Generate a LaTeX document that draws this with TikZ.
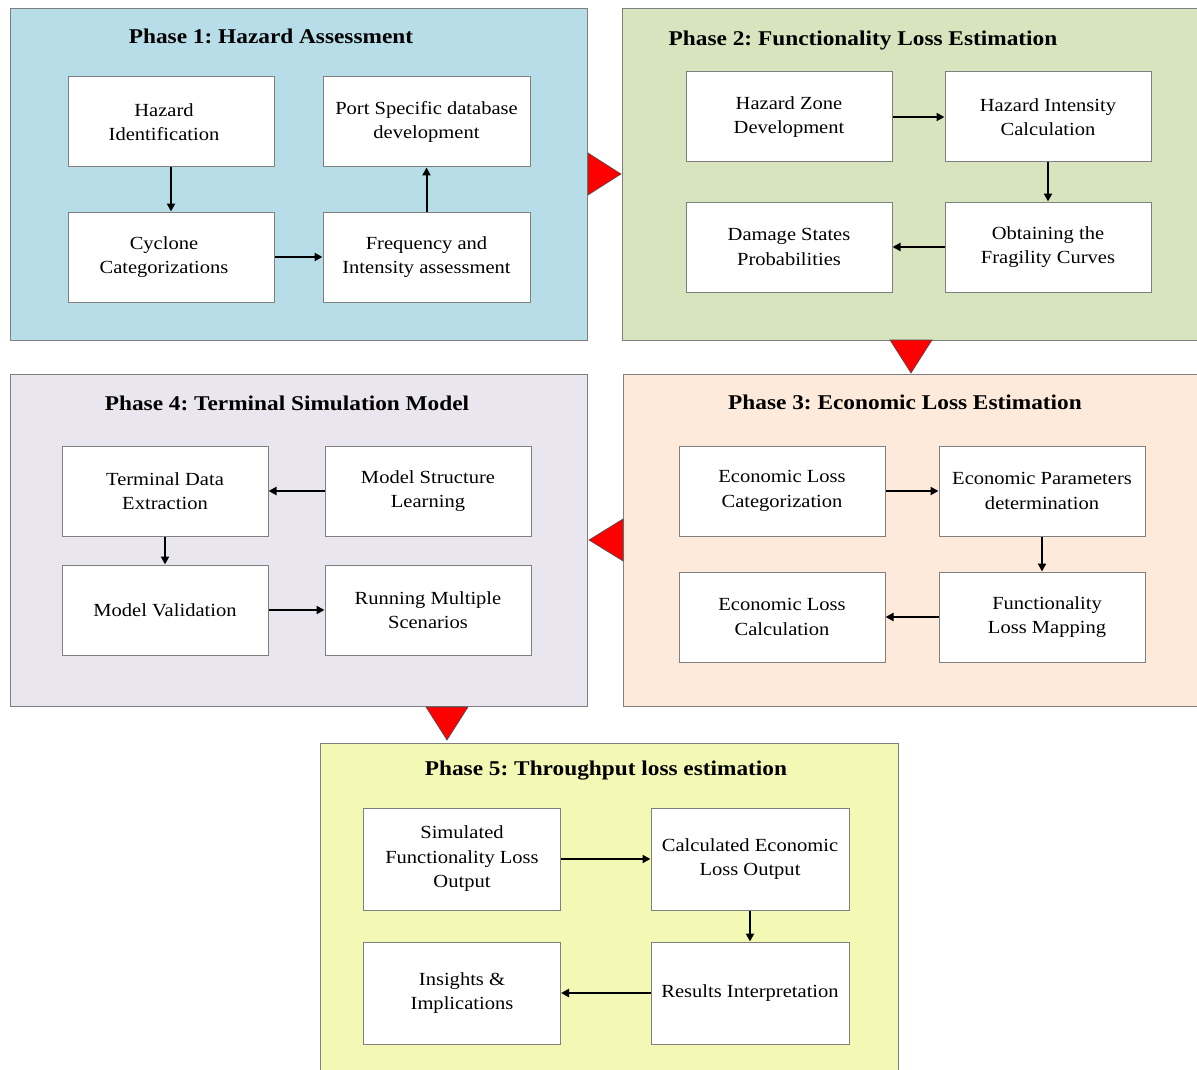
\documentclass[tikz,border=0pt]{standalone}
\usepackage{fontspec}
\setmainfont{Liberation Serif}[FakeStretch=1.11]
\frenchspacing
\usetikzlibrary{arrows.meta}
\definecolor{phaseA}{HTML}{B7DDE8}
\definecolor{phaseB}{HTML}{D7E4BD}
\definecolor{phaseC}{HTML}{FDEADA}
\definecolor{phaseD}{HTML}{EAE6EF}
\definecolor{phaseE}{HTML}{F3F9B5}
\definecolor{edgegray}{HTML}{7F7F7F}
\tikzset{
  panel/.style={draw=edgegray, line width=1.3pt, inner sep=0pt, anchor=north west},
  ptitle/.style={font=\fontsize{21}{25}\selectfont\bfseries, inner sep=0pt},
  stage/.style={draw=edgegray, line width=1pt, fill=white, align=center, inner sep=0pt,
    minimum width=206pt, minimum height=90pt, font=\fontsize{18.5}{24.5}\selectfont},
  flow/.style={line width=2pt, -{Triangle[length=8pt,width=8pt]}},
  pointer/.style={fill=red, draw=black!70, line width=0.6pt, line join=miter}
}
\begin{document}
\begin{tikzpicture}[x=1pt,y=-1pt]
\useasboundingbox (0,0) rectangle (1197,1070);
\fill[white] (0,0) rectangle (1197,1070);

% phase panels
\node[panel, fill=phaseA, minimum width=577pt, minimum height=332pt] (pA) at (10,8) {};
\node[panel, fill=phaseB, minimum width=600pt, minimum height=332pt] (pB) at (622,8) {};
\node[panel, fill=phaseD, minimum width=577pt, minimum height=332pt] (pD) at (10,374) {};
\node[panel, fill=phaseC, minimum width=600pt, minimum height=332pt] (pC) at (623,374) {};
\node[panel, fill=phaseE, minimum width=578pt, minimum height=350pt] (pE) at (320,743) {};

% panel titles
\node[ptitle] (tA) at (271,36) {Phase 1: Hazard Assessment};
\node[ptitle] (tB) at (863,40) {Phase 2: Functionality Loss Estimation};
\node[ptitle] (tD) at (287,403) {Phase 4: Terminal Simulation Model};
\node[ptitle] (tC) at (905,402) {Phase 3: Economic Loss Estimation};
\node[ptitle] (tE) at (606,771) {Phase 5: Throughput loss estimation};

% phase 1
\node[stage] (hid) at (171,122) {Hazard\hspace*{14pt}\\Identification\hspace*{14pt}};
\node[stage, minimum width=207pt] (psd) at (426.5,122) {Port Specific database\\development};
\node[stage] (cyc) at (171,257) {Cyclone\hspace*{14pt}\\Categorizations\hspace*{14pt}};
\node[stage, minimum width=207pt] (fia) at (426.5,257) {Frequency and\\Intensity assessment};
\draw[flow] (hid.south) -- (cyc.north);
\draw[flow] (cyc.east) -- (fia.west);
\draw[flow] (fia.north) -- (psd.south);

% phase 2
\node[stage] (hzd) at (789,117) {Hazard Zone\\Development};
\node[stage] (hic) at (1048,117) {Hazard Intensity\\Calculation};
\node[stage] (dsp) at (789,247) {Damage States\\Probabilities};
\node[stage] (ofc) at (1048,247) {Obtaining the\\Fragility Curves};
\draw[flow] (hzd.east) -- (hic.west);
\draw[flow] (hic.south) -- (ofc.north);
\draw[flow] (ofc.west) -- (dsp.east);

% phase 4
\node[stage] (tde) at (165,491) {Terminal Data\\Extraction};
\node[stage] (msl) at (428,491) {Model Structure\\Learning};
\node[stage] (mva) at (165,610) {Model Validation};
\node[stage] (rms) at (428,610) {Running Multiple\\Scenarios};
\draw[flow] (msl.west) -- (tde.east);
\draw[flow] (tde.south) -- (mva.north);
\draw[flow] (mva.east) -- (rms.west);

% phase 3
\node[stage] (elc) at (782,491) {Economic Loss\\Categorization};
\node[stage] (epd) at (1042,491) {Economic Parameters\\determination};
\node[stage] (ecl) at (782,617) {Economic Loss\\Calculation};
\node[stage] (flm) at (1042,617) {\hspace*{10pt}Functionality\\\hspace*{10pt}Loss Mapping};
\draw[flow] (elc.east) -- (epd.west);
\draw[flow] (epd.south) -- (flm.north);
\draw[flow] (flm.west) -- (ecl.east);

% phase 5
\node[stage, minimum width=197pt, minimum height=102pt] (sfl) at (462,859) {Simulated\\Functionality Loss\\Output};
\node[stage, minimum width=198pt, minimum height=102pt] (cel) at (750,859) {Calculated Economic\\Loss Output};
\node[stage, minimum width=197pt, minimum height=102pt] (ins) at (462,993) {Insights \&\\Implications};
\node[stage, minimum width=198pt, minimum height=102pt] (rin) at (750,993) {Results Interpretation};
\draw[flow] (sfl.east) -- (cel.west);
\draw[flow] (cel.south) -- (rin.north);
\draw[flow] (rin.west) -- (ins.east);

% red pointers between phases
\draw[pointer] (588,153) -- (621,174) -- (588,195) -- cycle;
\draw[pointer] (890,340) -- (932,340) -- (911,373) -- cycle;
\draw[pointer] (623,519) -- (623,561) -- (589,540) -- cycle;
\draw[pointer] (426,707) -- (468,707) -- (447,740) -- cycle;
\end{tikzpicture}
\end{document}
